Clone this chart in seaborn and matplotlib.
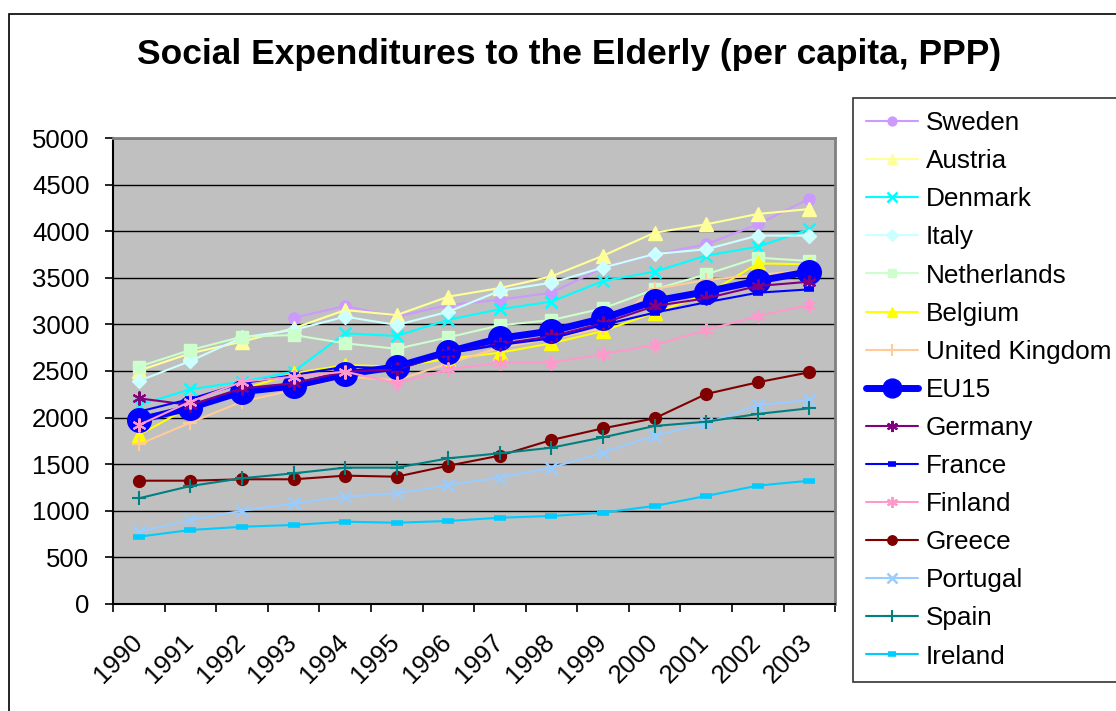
import numpy as np
import pandas as pd
import matplotlib
matplotlib.use('Agg')
import matplotlib.pyplot as plt
import matplotlib.transforms as mtransforms
from matplotlib.patches import Rectangle
import seaborn as sns

# ── 1. Data ──────────────────────────────────────────────
years = list(range(1990, 2004))

sweden_years = list(range(1993, 2004))
sweden      = [3070, 3197, 3083, 3208, 3265, 3340, 3609, 3752, 3859, 4074, 4349]
austria     = [2504, 2690, 2815, 2958, 3154, 3100, 3298, 3390, 3515, 3737, 3984, 4074, 4185, 4238]
denmark     = [2135, 2304, 2385, 2493, 2904, 2876, 3050, 3163, 3244, 3466, 3566, 3737, 3834, 4020]
italy       = [2393, 2607, 2860, 2940, 3083, 2994, 3136, 3360, 3448, 3609, 3755, 3806, 3953, 3953]
netherlands = [2547, 2725, 2868, 2886, 2797, 2738, 2861, 2990, 3047, 3172, 3376, 3537, 3716, 3680]
belgium     = [1813, 2117, 2300, 2475, 2564, 2546, 2630, 2697, 2797, 2929, 3126, 3320, 3655, 3645]
uk          = [1713, 1946, 2171, 2296, 2439, 2400, 2582, 2750, 2845, 2960, 3380, 3476, 3530, 3584]
eu15        = [1974, 2106, 2278, 2339, 2464, 2546, 2707, 2851, 2929, 3065, 3251, 3351, 3466, 3566]
germany     = [2207, 2135, 2314, 2368, 2493, 2518, 2690, 2790, 2872, 3012, 3197, 3280, 3412, 3458]
france      = [2064, 2200, 2368, 2457, 2546, 2528, 2690, 2780, 2850, 2994, 3126, 3237, 3340, 3376]
finland     = [1920, 2171, 2385, 2439, 2493, 2368, 2518, 2590, 2590, 2682, 2779, 2940, 3090, 3208]
greece      = [1323, 1323, 1338, 1338, 1377, 1366, 1484, 1592, 1760, 1885, 1992, 2253, 2379, 2486]
portugal    = [776, 901, 1001, 1080, 1151, 1188, 1277, 1355, 1463, 1624, 1806, 1939, 2135, 2189]
spain       = [1134, 1266, 1349, 1402, 1463, 1463, 1563, 1617, 1677, 1788, 1910, 1956, 2039, 2100]
ireland     = [722, 794, 829, 848, 883, 872, 891, 926, 944, 980, 1052, 1159, 1270, 1323]

# name, x, y, color, marker, markersize, linewidth, markeredgewidth
series = [
    ('Sweden',         sweden_years, sweden,      '#CC99FF', 'o',       8,   1.5, 1.0),
    ('Austria',        years,        austria,     '#FFFF99', '^',       9.5, 1.5, 1.0),
    ('Denmark',        years,        denmark,     '#00FFFF', 'x',       9,   1.5, 1.8),
    ('Italy',          years,        italy,       '#CCFFFF', 'D',       7.5, 1.5, 1.0),
    ('Netherlands',    years,        netherlands, '#CCFFCC', 's',       8,   1.5, 1.0),
    ('Belgium',        years,        belgium,     '#FFFF00', '^',       9.5, 1.5, 1.0),
    ('United Kingdom', years,        uk,          '#FFCC99', '+',       10,  1.5, 1.5),
    ('EU15',           years,        eu15,        '#0000FF', 'o',       17,  5.0, 1.0),
    ('Germany',        years,        germany,     '#800080', (6, 2, 0), 10,  1.5, 1.5),
    ('France',         years,        france,      '#0000FF', '_',       7,   1.5, 4.0),
    ('Finland',        years,        finland,     '#FF99CC', (6, 2, 0), 10,  1.5, 1.5),
    ('Greece',         years,        greece,      '#800000', 'o',       8.5, 1.5, 1.0),
    ('Portugal',       years,        portugal,    '#99CCFF', 'x',       9,   1.5, 1.8),
    ('Spain',          years,        spain,       '#008080', '+',       10,  1.5, 1.5),
    ('Ireland',        years,        ireland,     '#00CCFF', '_',       8,   1.5, 4.0),
]

# ── 2. Style ─────────────────────────────────────────────
sns.set_theme(style='white')
plt.rcParams['font.family'] = ['Liberation Sans', 'DejaVu Sans']
plt.rcParams['text.color'] = 'black'
plt.rcParams['xtick.color'] = 'black'
plt.rcParams['ytick.color'] = 'black'

fig = plt.figure(figsize=(11.16, 7.11), dpi=100)
fig.patch.set_facecolor('white')
ax = fig.add_axes([0.1013, 0.1505, 0.6470, 0.6554])
ax.set_facecolor('#C0C0C0')

# ── 3. Lines ─────────────────────────────────────────────
for name, xs, ys, col, mk, ms, lw, mew in series:
    df = pd.DataFrame({'year': xs, 'value': ys})
    sns.lineplot(data=df, x='year', y='value', ax=ax, color=col, marker=mk,
                 markersize=ms, linewidth=lw, markeredgecolor=col,
                 markerfacecolor=col, markeredgewidth=mew, label=name)

# ── 4. Axes ──────────────────────────────────────────────
ax.set_xlim(1989.5, 2003.5)
ax.set_ylim(0, 5000)
ax.set_yticks(np.arange(0, 5001, 500))
ax.set_xticks(years)
ax.set_xticks(np.arange(1989.5, 2004, 1), minor=True)
ax.set_xlabel('')
ax.set_ylabel('')
ax.yaxis.grid(True, color='black', linewidth=1.0)
ax.set_axisbelow(True)

ax.tick_params(axis='y', which='major', left=True, length=6, width=1.2,
               color='black', pad=11, labelsize=18.5, labelcolor='black')
ax.tick_params(axis='x', which='major', bottom=False, length=0, pad=19,
               labelsize=18.5, labelcolor='black')
ax.tick_params(axis='x', which='minor', bottom=True, length=6, width=1.2,
               color='black')

offset = mtransforms.ScaledTranslation(-9 / 100, 0, fig.dpi_scale_trans)
for lab in ax.get_xticklabels():
    lab.set_rotation(45)
    lab.set_ha('right')
    lab.set_va('top')
    lab.set_rotation_mode('anchor')
    lab.set_transform(lab.get_transform() + offset)

for side in ['left', 'bottom']:
    ax.spines[side].set_color('black')
    ax.spines[side].set_linewidth(1.5)
for side in ['top', 'right']:
    ax.spines[side].set_color('#808080')
    ax.spines[side].set_linewidth(2)

# ── 5. Title, legend, border ─────────────────────────────
fig.text(0.51, 0.923, 'Social Expenditures to the Elderly (per capita, PPP)',
         ha='center', va='center', fontsize=25.5, fontweight='bold',
         color='black')

handles, labels = ax.get_legend_handles_labels()
ax.get_legend().remove()
leg = fig.legend(handles, labels, loc='upper left',
                 bbox_to_anchor=(0.764, 0.862), fontsize=18.8,
                 frameon=True, fancybox=False, edgecolor='black',
                 borderpad=0.5, labelspacing=0.54, handlelength=2.0,
                 handletextpad=0.3, borderaxespad=0, markerscale=0.8)
leg.get_frame().set_linewidth(1.2)
for t in leg.get_texts():
    t.set_color('black')

fig.patches.append(Rectangle((9 / 1116, -0.1), 1.2, 1.09 - 7 / 711,
                             transform=fig.transFigure, fill=False,
                             edgecolor='black', linewidth=1.2))

fig.savefig('out.png', dpi=100)
